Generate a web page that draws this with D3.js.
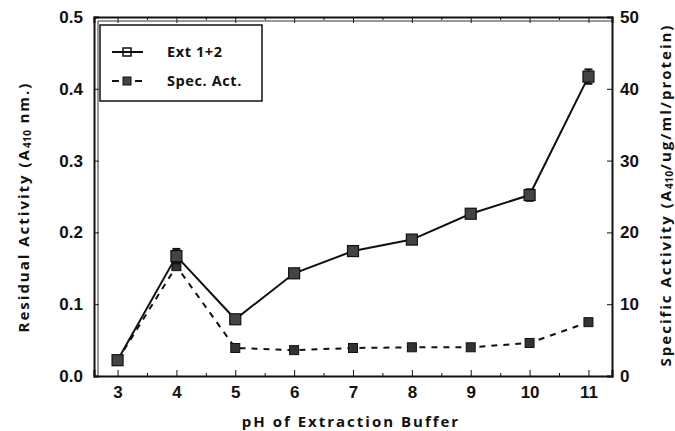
<!DOCTYPE html>
<html>
<head>
<meta charset="utf-8">
<script src="https://cdn.jsdelivr.net/npm/d3@7"></script>
<style>
  body { margin: 0; background: #fff; }
  svg { display: block; font-family: "Open Sans", "DejaVu Sans", sans-serif; }
  .axis text { font-size: 17px; font-weight: 700; fill: #111; }
  .axis path, .axis line { stroke: #111; }
  .title { font-size: 15px; font-weight: 700; fill: #111; letter-spacing: 2px; }
  .legend-text { font-size: 14.5px; font-weight: 700; fill: #111; letter-spacing: 0.6px; }
</style>
</head>
<body>
<div id="chart"></div>
<script>
const width = 675;
const height = 431;

const phValues = [3, 4, 5, 6, 7, 8, 9, 10, 11];
const extActivity = [0.022, 0.167, 0.079, 0.143, 0.174, 0.190, 0.226, 0.252, 0.417];
const extError = [0.003, 0.010, 0.004, 0.005, 0.004, 0.004, 0.004, 0.008, 0.010];
const specActivity = [2.2, 15.3, 3.9, 3.6, 3.9, 4.0, 4.0, 4.6, 7.5];

const leftTicks = [0, 0.1, 0.2, 0.3, 0.4, 0.5];
const rightTicks = [0, 10, 20, 30, 40, 50];
const minorPh = [3.5, 4.5, 5.5, 6.5, 7.5, 8.5, 9.5, 10.5];

const margin = { top: 17, right: 63, bottom: 55, left: 94 };

const svg = d3.select("#chart")
  .append("svg")
  .attr("width", width)
  .attr("height", height);

const x = d3.scaleLinear()
  .domain([2.6, 11.4])
  .range([margin.left, width - margin.right]);

const yLeft = d3.scaleLinear()
  .domain([0, 0.5])
  .range([height - margin.bottom, margin.top]);

const yRight = d3.scaleLinear()
  .domain([0, 50])
  .range([height - margin.bottom, margin.top]);

const plotBottom = height - margin.bottom;
const plotRight = width - margin.right;

// axes with ticks pointing inward
svg.append("g")
  .attr("class", "axis")
  .attr("transform", `translate(0,${plotBottom})`)
  .call(d3.axisBottom(x).tickValues(phValues).tickSize(-6).tickPadding(10).tickFormat(d3.format("d")))
  .call(g => g.select(".domain").attr("stroke-width", 2));

svg.append("g")
  .attr("class", "axis")
  .attr("transform", `translate(0,${plotBottom})`)
  .call(d3.axisBottom(x).tickValues(minorPh).tickSize(-3).tickFormat(""))
  .call(g => g.select(".domain").remove());

svg.append("g")
  .attr("class", "axis")
  .attr("transform", `translate(0,${margin.top})`)
  .call(d3.axisTop(x).tickValues(phValues).tickSize(-6).tickFormat(""))
  .call(g => g.select(".domain").attr("stroke-width", 2));

svg.append("g")
  .attr("class", "axis")
  .attr("transform", `translate(0,${margin.top})`)
  .call(d3.axisTop(x).tickValues(minorPh).tickSize(-3).tickFormat(""))
  .call(g => g.select(".domain").remove());

svg.append("g")
  .attr("class", "axis")
  .attr("transform", `translate(${margin.left},0)`)
  .call(d3.axisLeft(yLeft).tickValues(leftTicks).tickSize(-5).tickPadding(11).tickFormat(d3.format(".1f")))
  .call(g => g.select(".domain").attr("stroke-width", 2));

svg.append("g")
  .attr("class", "axis")
  .attr("transform", `translate(${plotRight},0)`)
  .call(d3.axisRight(yRight).tickValues(rightTicks).tickSize(-5).tickPadding(8).tickFormat(d3.format("d")))
  .call(g => g.select(".domain").attr("stroke-width", 2));

// inner frame line seen on the left and top
svg.append("path")
  .attr("d", `M${margin.left + 4},${plotBottom} V${margin.top + 4} H${plotRight}`)
  .attr("fill", "none")
  .attr("stroke", "#333")
  .attr("stroke-width", 1);

// spec. act. (dashed, right axis)
const specLine = d3.line()
  .x((d, i) => x(phValues[i]))
  .y(d => yRight(d));

svg.append("path")
  .datum(specActivity)
  .attr("fill", "none")
  .attr("stroke", "#111")
  .attr("stroke-width", 2)
  .attr("stroke-dasharray", "6,6")
  .attr("d", specLine);

svg.selectAll(".spec-marker")
  .data(specActivity)
  .join("rect")
  .attr("class", "spec-marker")
  .attr("x", (d, i) => x(phValues[i]) - 4.5)
  .attr("y", d => yRight(d) - 4.5)
  .attr("width", 9)
  .attr("height", 9)
  .attr("fill", "#333")
  .attr("stroke", "#111")
  .attr("stroke-width", 1);

// ext 1+2 (solid, left axis)
const extLine = d3.line()
  .x((d, i) => x(phValues[i]))
  .y(d => yLeft(d));

svg.append("path")
  .datum(extActivity)
  .attr("fill", "none")
  .attr("stroke", "#111")
  .attr("stroke-width", 2)
  .attr("d", extLine);

const errGroups = svg.selectAll(".err")
  .data(extActivity)
  .join("g")
  .attr("class", "err");

errGroups.append("line")
  .attr("x1", (d, i) => x(phValues[i]))
  .attr("x2", (d, i) => x(phValues[i]))
  .attr("y1", (d, i) => yLeft(d - extError[i]))
  .attr("y2", (d, i) => yLeft(d + extError[i]))
  .attr("stroke", "#111")
  .attr("stroke-width", 2);

[-1, 1].forEach(sign => {
  errGroups.append("line")
    .attr("x1", (d, i) => x(phValues[i]) - 4)
    .attr("x2", (d, i) => x(phValues[i]) + 4)
    .attr("y1", (d, i) => yLeft(d + sign * extError[i]))
    .attr("y2", (d, i) => yLeft(d + sign * extError[i]))
    .attr("stroke", "#111")
    .attr("stroke-width", 2);
});

svg.selectAll(".ext-marker")
  .data(extActivity)
  .join("rect")
  .attr("class", "ext-marker")
  .attr("x", (d, i) => x(phValues[i]) - 5.5)
  .attr("y", d => yLeft(d) - 5.5)
  .attr("width", 11)
  .attr("height", 11)
  .attr("fill", "#444")
  .attr("stroke", "#111")
  .attr("stroke-width", 1.2);

// legend
const legend = svg.append("g");

legend.append("rect")
  .attr("x", 100)
  .attr("y", 25)
  .attr("width", 162)
  .attr("height", 76)
  .attr("fill", "#fff")
  .attr("stroke", "#111")
  .attr("stroke-width", 1.5);

legend.append("line")
  .attr("x1", 112).attr("x2", 143)
  .attr("y1", 52).attr("y2", 52)
  .attr("stroke", "#111").attr("stroke-width", 2);

legend.append("rect")
  .attr("x", 123).attr("y", 48).attr("width", 8).attr("height", 8)
  .attr("fill", "none").attr("stroke", "#111").attr("stroke-width", 1.5);

[[112, 119], [135, 142]].forEach(([a, b]) => {
  legend.append("line")
    .attr("x1", a).attr("x2", b)
    .attr("y1", 81).attr("y2", 81)
    .attr("stroke", "#111").attr("stroke-width", 2);
});

legend.append("rect")
  .attr("x", 123).attr("y", 77).attr("width", 8).attr("height", 8)
  .attr("fill", "#444").attr("stroke", "#111").attr("stroke-width", 1);

legend.append("text")
  .attr("class", "legend-text")
  .attr("x", 167).attr("y", 57)
  .text("Ext 1+2");

legend.append("text")
  .attr("class", "legend-text")
  .attr("x", 167).attr("y", 86)
  .text("Spec. Act.");

// axis titles
svg.append("text")
  .attr("class", "title")
  .attr("x", 351)
  .attr("y", 427)
  .attr("text-anchor", "middle")
  .text("pH of Extraction Buffer");

const leftTitle = svg.append("text")
  .attr("class", "title")
  .attr("text-anchor", "middle")
  .attr("transform", "translate(29,207) rotate(-90)");
leftTitle.append("tspan").text("Residual Activity (A");
leftTitle.append("tspan").attr("font-size", "10px").attr("dy", 2).attr("letter-spacing", "0.5px").text("410");
leftTitle.append("tspan").attr("dy", -2).text(" nm.)");

const rightTitle = svg.append("text")
  .attr("class", "title")
  .attr("text-anchor", "middle")
  .attr("transform", "translate(671,195) rotate(-90)");
rightTitle.append("tspan").text("Specific Activity (A");
rightTitle.append("tspan").attr("font-size", "10px").attr("dy", 2).attr("letter-spacing", "0.5px").text("410");
rightTitle.append("tspan").attr("dy", -2).text("/ug/ml/protein)");
</script>
</body>
</html>
